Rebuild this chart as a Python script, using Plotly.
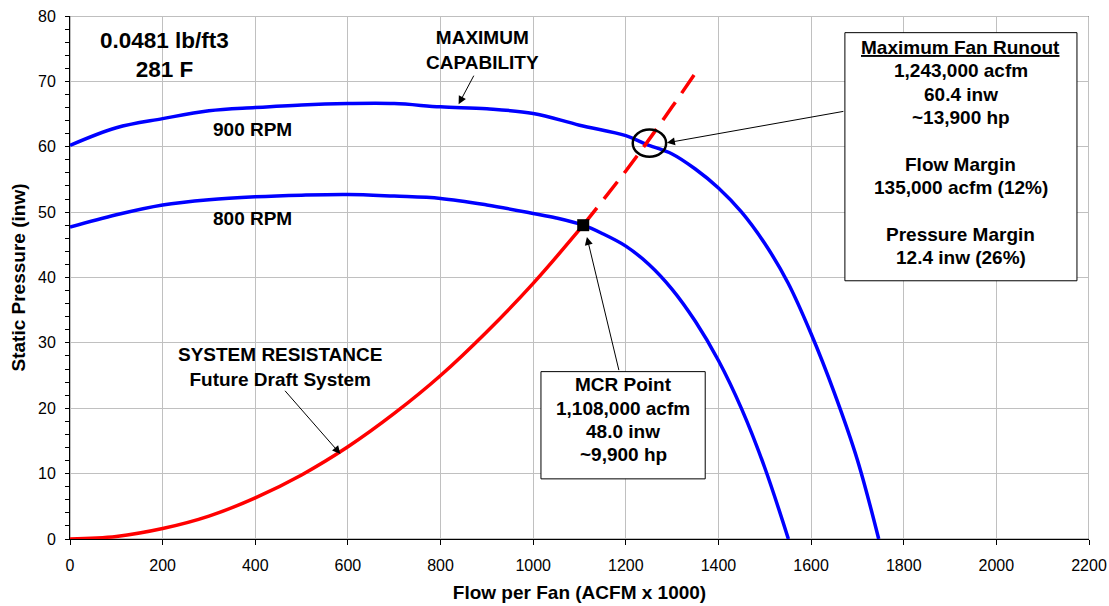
import plotly.graph_objects as go

# Fan curves (flow in kACFM, static pressure in inw)
flow_900 = [0, 100, 200, 300, 400, 500, 600, 700, 800, 900, 1000, 1100, 1200, 1243,
            1300, 1350, 1400, 1450, 1500, 1550, 1600, 1650, 1700, 1746]
sp_900 = [60.2, 62.9, 64.3, 65.5, 66.0, 66.4, 66.6, 66.6, 66.1, 65.8, 65.1, 63.3, 61.7, 60.4,
          58.9, 56.6, 53.7, 50.0, 45.2, 39.2, 31.4, 22.4, 12.1, 0.0]

flow_800 = [0, 100, 200, 300, 400, 500, 600, 700, 800, 900, 1000, 1050, 1108, 1150,
            1200, 1250, 1300, 1350, 1400, 1450, 1500, 1551]
sp_800 = [47.7, 49.6, 51.1, 51.9, 52.35, 52.6, 52.7, 52.45, 52.1, 51.1, 49.8, 49.1, 48.0, 46.7,
          44.8, 42.0, 38.2, 33.3, 27.3, 19.9, 10.9, 0.0]

# System resistance: solid up to the MCR point, dashed beyond
flow_sys = [0, 100, 200, 300, 400, 500, 600, 700, 800, 900, 1000, 1108]
sp_sys = [0.0, 0.4, 1.6, 3.5, 6.3, 9.8, 14.1, 19.2, 25.0, 31.7, 39.1, 48.0]
flow_sys_ext = [1108, 1200, 1243, 1300, 1360]
sp_sys_ext = [48.0, 56.3, 60.4, 66.1, 72.3]

# Operating points
mcr_flow, mcr_sp = 1108, 48.0
runout_flow, runout_sp = 1243, 60.4

mcr_lines = ["MCR Point", "1,108,000 acfm", "48.0 inw", "~9,900 hp"]
runout_lines = ["<u>Maximum Fan Runout</u>", "1,243,000 acfm", "60.4 inw", "~13,900 hp", "",
                "Flow Margin", "135,000 acfm (12%)", "", "Pressure Margin", "12.4 inw (26%)"]

FONT = "Arial, Liberation Sans, sans-serif"
BLUE = "#0000FF"
RED = "#FF0000"

fig = go.Figure()
fig.add_trace(go.Scatter(x=flow_900, y=sp_900, mode="lines",
                         line=dict(color=BLUE, width=3.5, shape="spline", smoothing=1.0)))
fig.add_trace(go.Scatter(x=flow_800, y=sp_800, mode="lines",
                         line=dict(color=BLUE, width=3.5, shape="spline", smoothing=1.0)))
fig.add_trace(go.Scatter(x=flow_sys, y=sp_sys, mode="lines",
                         line=dict(color=RED, width=3.5, shape="spline", smoothing=1.0)))
fig.add_trace(go.Scatter(x=flow_sys_ext, y=sp_sys_ext, mode="lines",
                         line=dict(color=RED, width=3.5, dash="22px,11px",
                                   shape="spline", smoothing=1.0)))
fig.add_trace(go.Scatter(x=[mcr_flow], y=[mcr_sp], mode="markers",
                         marker=dict(symbol="square", size=12, color="black")))

bold = dict(family=FONT, size=19, color="black", weight="bold")

annotations = [
    dict(x=204, y=74.1, text="0.0481 lb/ft3<br>281 F", showarrow=False,
         font=dict(family=FONT, size=22.5, color="black", weight="bold")),
    dict(x=395, y=62.7, text="900 RPM", showarrow=False, font=bold),
    dict(x=395, y=49.0, text="800 RPM", showarrow=False, font=bold),
    dict(x=891, y=74.8, text="MAXIMUM<br>CAPABILITY", showarrow=False, font=bold),
    dict(x=454, y=26.3, text="SYSTEM RESISTANCE<br>Future Draft System", showarrow=False, font=bold),
]

# leader arrows
arrows = [
    ((873.5, 71.1), (839, 66.5)),
    ((1673, 65.45), (1288.7, 60.6)),
    ((1185.8, 25.6), (1116, 46.2)),
    ((461.4, 22.9), (583.7, 13.0)),
]
for (tx, ty), (hx, hy) in arrows:
    annotations.append(dict(x=hx, y=hy, ax=tx, ay=ty, axref="x", ayref="y", text="",
                            showarrow=True, arrowhead=2, arrowsize=1.6, arrowwidth=1,
                            arrowcolor="black", standoff=0))

# text boxes
mcr_box = dict(x0=1016.8, x1=1371.4, y0=9.2, y1=25.6)
runout_box = dict(x0=1673, x1=2174, y0=39.5, y1=77.45)

for i, line in enumerate(mcr_lines):
    annotations.append(dict(x=(mcr_box["x0"] + mcr_box["x1"]) / 2, y=mcr_box["y1"],
                            yshift=-13.3 - 23.3 * i, text=line, showarrow=False, font=bold,
                            yanchor="middle"))
for i, line in enumerate(runout_lines):
    if not line:
        continue
    annotations.append(dict(x=(runout_box["x0"] + runout_box["x1"]) / 2, y=runout_box["y1"],
                            yshift=-14.7 - 23.4 * i, text=line, showarrow=False, font=bold,
                            yanchor="middle"))

shapes = [
    dict(type="rect", xref="x", yref="y", x0=0, x1=2200, y0=0, y1=80,
         line=dict(color="#808080", width=1), layer="below"),
    dict(type="rect", xref="x", yref="y", **mcr_box, line=dict(color="black", width=1),
         fillcolor="white", layer="above"),
    dict(type="rect", xref="x", yref="y", **runout_box, line=dict(color="black", width=1),
         fillcolor="white", layer="above"),
    dict(type="circle", xref="x", yref="y", xsizemode="pixel", ysizemode="pixel",
         xanchor=1251, yanchor=60.55, x0=-16.7, x1=16.7, y0=-13.7, y1=13.7,
         line=dict(color="black", width=2.5), layer="above"),
]

fig.update_layout(
    width=1109, height=606,
    margin=dict(l=70, r=20, t=16, b=67),
    paper_bgcolor="white", plot_bgcolor="white",
    showlegend=False,
    font=dict(family=FONT, color="black"),
    annotations=annotations,
    shapes=shapes,
    xaxis=dict(range=[0, 2200], tick0=0, dtick=200, showgrid=True, gridcolor="#c0c0c0",
               gridwidth=1, zeroline=False, showline=True, linecolor="black", linewidth=1,
               ticks="outside", ticklen=5, tickcolor="black", ticklabelstandoff=7,
               automargin=False,
               tickfont=dict(size=16, family=FONT, color="black"),
               title=dict(text="Flow per Fan (ACFM x 1000)", standoff=12,
                          font=dict(size=19, family=FONT, color="black", weight="bold"))),
    yaxis=dict(range=[0, 80], tick0=0, dtick=10, showgrid=True, gridcolor="#c0c0c0",
               gridwidth=1, zeroline=False, showline=True, linecolor="black", linewidth=1,
               ticks="outside", ticklen=4, tickcolor="black", ticklabelstandoff=6,
               automargin=False,
               minor=dict(dtick=2, ticks="outside", ticklen=4, tickcolor="black", showgrid=False),
               tickfont=dict(size=16, family=FONT, color="black"),
               title=dict(text="Static Pressure (inw)", standoff=7,
                          font=dict(size=19, family=FONT, color="black", weight="bold"))),
    yaxis2=dict(range=[0, 80], overlaying="y", side="left", anchor="x", tick0=0, dtick=10,
                showgrid=False, zeroline=False, showline=False, showticklabels=False,
                ticks="inside", ticklen=4, tickcolor="black", automargin=False,
                minor=dict(dtick=2, ticks="inside", ticklen=4, tickcolor="black", showgrid=False)),
)

fig.write_html("out.html")
